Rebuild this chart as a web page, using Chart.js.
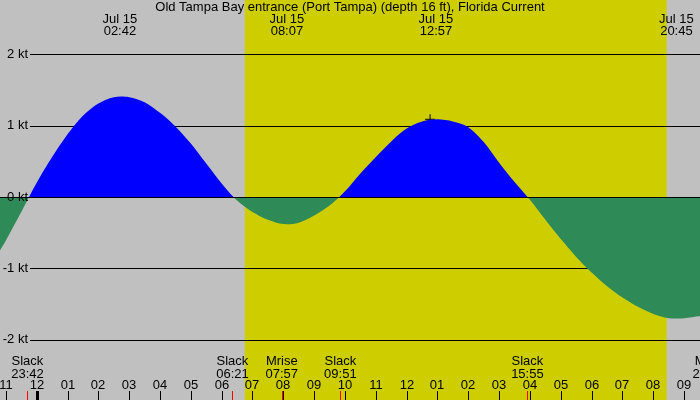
<!DOCTYPE html>
<html>
<head>
<meta charset="utf-8">
<script src="https://cdn.jsdelivr.net/npm/chart.js@4"></script>
<style>
  body { margin: 0; background: #c0c0c0; }
  canvas { display: block; }
</style>
</head>
<body>
<canvas id="tide" width="700" height="400"></canvas>
<script>
// hours since Jul 15 00:00, current in knots
const hours = [-1.19, -1, -0.5, 0, 0.5, 1, 1.5, 2, 2.5, 3, 3.5, 4, 4.5, 5, 5.5, 6,
  6.5, 7, 7.5, 8, 8.5, 9, 9.5, 10, 10.5, 11, 11.5, 12, 12.5, 13, 13.5, 14, 14.5, 15, 15.5,
  16, 16.5, 17, 17.5, 18, 18.5, 19, 19.5, 20, 20.5, 21, 21.52];
const speed = [-0.75, -0.61, -0.21, 0.2, 0.56, 0.88, 1.14, 1.31, 1.40, 1.40, 1.33, 1.18, 0.99, 0.75, 0.47, 0.19,
  -0.05, -0.21, -0.32, -0.38, -0.36, -0.26, -0.12, 0.08, 0.33, 0.56, 0.78, 0.96, 1.06, 1.09, 1.06, 0.98, 0.77, 0.48, 0.21,
  -0.04, -0.32, -0.59, -0.84, -1.06, -1.25, -1.41, -1.54, -1.64, -1.70, -1.70, -1.67];

const yTicks = [2, 1, 0, -1, -2];

// maxima / minima shown at the top
const peakTimes = ['02:42', '08:07', '12:57', '20:45'];
const peakDate = 'Jul 15';

// events shown at the bottom
const eventNames = ['Slack', 'Slack', 'Mrise', 'Slack', 'Slack', 'Mset'];
const eventTimes = ['23:42', '06:21', '07:57', '09:51', '15:55', '21:48'];
const eventPrevDay = [true, false, false, false, false, false];

const sunrise = '06:45';
const sunset = '20:26';
const nowMark = { x: 12.76, y: 1.09 };

const title = 'Old Tampa Bay entrance (Port Tampa) (depth 16 ft), Florida Current';

function toHours(t, prev) {
  const p = t.split(':');
  let h = parseInt(p[0], 10) + parseInt(p[1], 10) / 60;
  if (prev) h -= 24;
  return h;
}

const FONT = '13px "Liberation Sans", Arial, sans-serif';

const tidePlugin = {
  id: 'tide',
  beforeDraw(chart) {
    const ctx = chart.ctx, xs = chart.scales.x;
    ctx.save();
    ctx.fillStyle = '#c0c0c0';
    ctx.fillRect(0, 0, chart.width, chart.height);
    const x1 = xs.getPixelForValue(toHours(sunrise));
    const x2 = xs.getPixelForValue(toHours(sunset));
    ctx.fillStyle = '#cdcd00';
    ctx.fillRect(x1, 0, x2 - x1, chart.height);
    ctx.restore();
  },
  beforeDatasetsDraw(chart) {
    const ctx = chart.ctx, ys = chart.scales.y;
    ctx.save();
    ctx.strokeStyle = '#000';
    ctx.lineWidth = 1;
    yTicks.forEach(v => {
      const y = Math.round(ys.getPixelForValue(v)) + 0.5;
      ctx.beginPath();
      ctx.moveTo(30, y);
      ctx.lineTo(chart.width, y);
      ctx.stroke();
    });
    ctx.restore();
  },
  afterDatasetsDraw(chart) {
    const ctx = chart.ctx, xs = chart.scales.x, ys = chart.scales.y;
    ctx.save();
    // zero line over the fill
    const y0 = Math.round(ys.getPixelForValue(0)) + 0.5;
    ctx.strokeStyle = '#000';
    ctx.beginPath();
    ctx.moveTo(0, y0);
    ctx.lineTo(chart.width, y0);
    ctx.stroke();

    ctx.font = FONT;
    ctx.fillStyle = '#000';
    ctx.textBaseline = 'middle';

    // y labels
    ctx.textAlign = 'right';
    yTicks.forEach(v => {
      ctx.fillText(v + ' kt', 28, ys.getPixelForValue(v));
    });

    // title and peaks
    ctx.textAlign = 'center';
    ctx.fillText(title, 350, 7);
    peakTimes.forEach(t => {
      const x = xs.getPixelForValue(toHours(t));
      ctx.fillText(peakDate, x, 19);
      ctx.fillText(t, x, 31);
    });

    // events
    eventNames.forEach((n, i) => {
      const x = xs.getPixelForValue(toHours(eventTimes[i], eventPrevDay[i]));
      ctx.fillText(n, x, 361);
      ctx.fillText(eventTimes[i], x, 374);
    });

    // hour ticks
    for (let h = -1; h <= 21; h++) {
      const x = Math.round(xs.getPixelForValue(h));
      let lab = ((h % 12) + 12) % 12;
      if (lab === 0) lab = 12;
      ctx.fillText(String(lab).padStart(2, '0'), x, 385);
      if (h === 0) ctx.fillRect(x - 1, 391, 3, 9);
      else ctx.fillRect(x, 391, 1, 9);
    }
    ctx.fillStyle = '#ff0000';
    eventTimes.forEach((t, i) => {
      const x = Math.round(xs.getPixelForValue(toHours(t, eventPrevDay[i])));
      ctx.fillRect(x, 391, 1, 9);
    });
    ctx.restore();
  }
};

new Chart(document.getElementById('tide'), {
  type: 'line',
  data: {
    datasets: [
      {
        data: hours.map((h, i) => ({ x: h, y: speed[i] })),
        borderWidth: 0,
        borderColor: 'rgba(0,0,0,0)',
        pointRadius: 0,
        tension: 0.3,
        fill: { target: 'origin', above: '#0000ff', below: '#2e8b57' }
      },
      {
        data: [nowMark],
        showLine: false,
        pointStyle: 'cross',
        pointRadius: 5,
        borderColor: '#000',
        borderWidth: 1,
        fill: false
      }
    ]
  },
  options: {
    responsive: false,
    animation: false,
    devicePixelRatio: 1,
    layout: { padding: 0, autoPadding: false },
    scales: {
      x: { type: 'linear', min: -1.19, max: 21.515, display: false },
      y: { min: -2.847, max: 2.763, display: false }
    },
    plugins: { legend: { display: false }, tooltip: { enabled: false } }
  },
  plugins: [tidePlugin]
});
</script>
</body>
</html>
